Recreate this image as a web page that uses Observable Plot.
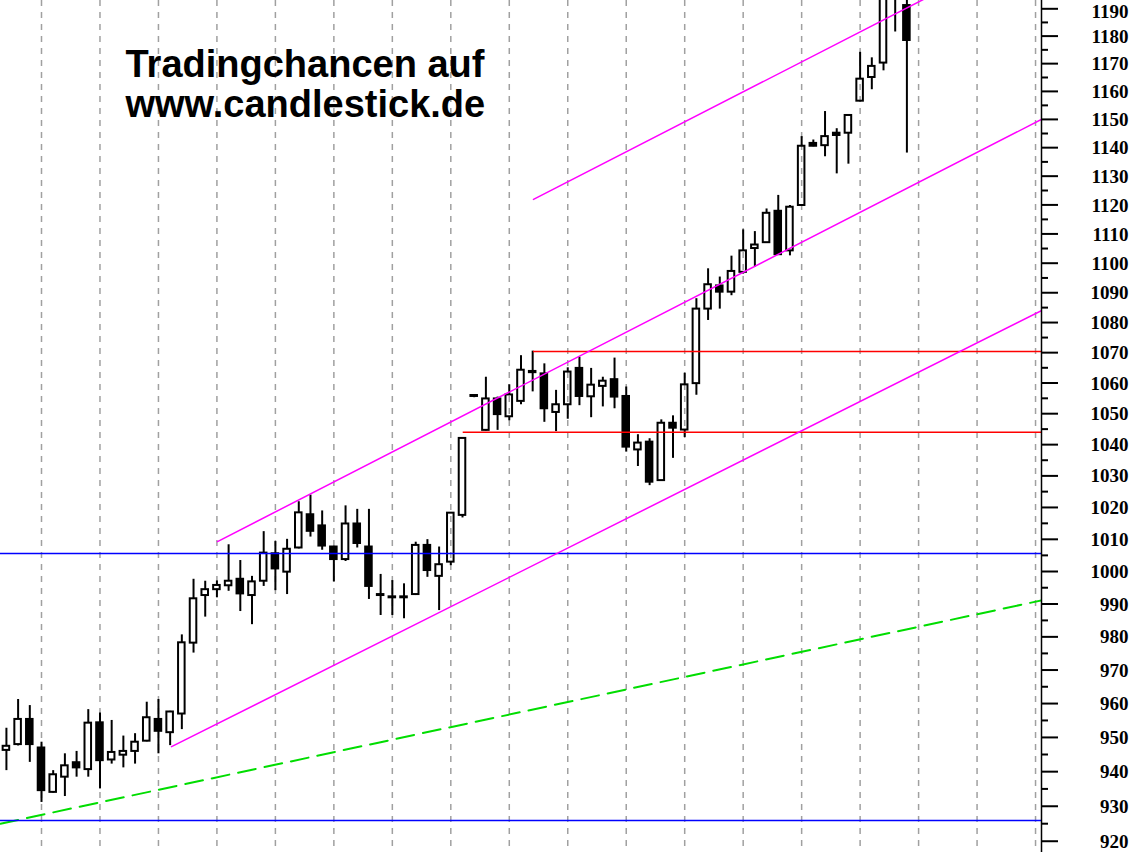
<!DOCTYPE html>
<html><head><meta charset="utf-8">
<script src="https://cdn.jsdelivr.net/npm/d3@7"></script>
<script src="https://cdn.jsdelivr.net/npm/@observablehq/plot@0.6"></script>
<style>body{margin:0;background:#fff}#chart{position:relative;width:1136px;height:852px}</style>
</head><body><div id="chart"></div>
<script>
// Candle data (index 0..77)
const opens  = [946.2,947.9,955.3,946.9,934.0,938.4,942.6,940.6,954.3,943.4,944.8,945.9,948.9,955.3,951.4,956.9,978.1,992.6,994.4,995.6,
                997.6,992.6,997.0,1005.5,999.8,1007.3,1017.7,1014.2,1007.6,1003.7,1014.8,1007.6,992.6,991.9,991.9,992.9,1008.1,998.5,1002.9,1017.5,
                1055.6,1044.6,1054.8,1049.0,1054.0,1063.8,1063.0,1050.4,1052.9,1064.8,1055.5,1058.9,1061.1,1055.6,1038.3,1040.8,1028.5,1046.9,1044.7,1059.8,
                1084.5,1092.3,1090.2,1096.9,1105.0,1107.0,1117.8,1104.2,1119.8,1141.5,1140.7,1145.1,1145.1,1156.5,1165.0,1170.2,1196.0,1191.2];
const highs  = [952.7,961.2,959.4,948.6,940.3,945.2,945.9,958.2,957.2,955.0,950.4,951.1,960.4,961.2,957.7,980.6,997.6,997.0,997.1,1008.3,
                1003.4,998.5,1012.4,1009.3,1010.0,1021.8,1023.9,1018.9,1007.8,1020.5,1019.4,1019.4,999.1,997.2,996.2,1009.1,1009.9,1007.6,1018.2,1042.3,
                1056.0,1061.9,1055.4,1059.4,1069.0,1070.5,1066.3,1057.6,1065.0,1068.5,1064.8,1061.9,1068.2,1058.7,1043.2,1041.9,1048.0,1049.3,1063.2,1088.0,
                1098.1,1095.3,1102.4,1111.4,1110.8,1118.6,1123.3,1119.8,1143.9,1142.7,1152.8,1146.7,1151.6,1174.1,1172.1,1196.0,1200.0,1193.5];
const lows   = [940.3,947.5,942.7,931.1,933.8,932.8,938.4,938.4,935.0,942.2,941.1,942.2,948.7,945.2,947.6,952.3,975.1,986.0,991.9,993.9,
                987.7,983.7,995.4,994.1,992.9,1007.0,1010.7,1006.6,996.8,1003.1,1007.3,991.4,986.5,986.5,985.5,992.6,998.2,988.0,1001.8,1016.7,
                1055.2,1044.4,1044.6,1047.7,1052.9,1057.1,1047.2,1044.2,1048.2,1052.6,1048.7,1052.2,1051.6,1037.6,1033.0,1026.9,1028.3,1035.6,1042.3,1056.0,
                1080.7,1084.5,1089.0,1096.3,1098.7,1106.8,1102.7,1102.5,1119.5,1140.3,1136.8,1130.8,1134.2,1156.3,1160.6,1167.4,1181.5,1138.1];
const closes = [947.4,955.3,947.9,934.5,939.1,941.7,941.1,954.2,943.2,945.6,945.9,948.6,955.8,951.8,957.5,978.2,991.6,994.4,995.7,997.0,
                993.1,996.8,1005.7,1000.8,1006.9,1018.3,1012.5,1007.9,1003.7,1014.8,1008.7,995.4,992.6,991.9,991.9,1008.1,1000.3,1002.1,1018.2,1042.0,
                1055.6,1054.8,1049.7,1056.1,1064.2,1063.4,1051.6,1052.9,1063.6,1055.6,1059.3,1060.6,1055.4,1039.2,1040.5,1028.0,1046.9,1045.3,1059.4,1084.5,
                1092.7,1090.2,1097.2,1104.2,1106.2,1117.1,1102.9,1119.2,1140.5,1140.5,1143.9,1144.3,1151.4,1164.4,1169.0,1194.0,1199.0,1178.4];

// Axis ticks
const majorTicks = [920,930,940,950,960,970,980,990,1000,1010,1020,1030,1040,1050,1060,1070,1080,1090,1100,1110,1120,1130,1140,1150,1160,1170,1180,1190];
const minorTicks = [925,935,945,955,965,975,985,995,1005,1015,1025,1035,1045,1055,1065,1075,1085,1095,1105,1115,1125,1135,1145,1155,1165,1175,1185];
// Vertical dashed grid (every 5th bar)
const gridAt = [3,8,13,18,23,28,33,38,43,48,53,58,63,68,73,78,83,88];

// Annotation lines (bar index, price)
const blueLevels = [1005.6, 925.9];
const redLevels  = [1070.4, 1044.0];
const redStarts  = [45.07, 39.06];
const channelTop = [[45.07, 1121.9], [88.51, 1216.0]];
const channelMid = [[18.05, 1009.3], [88.51, 1150.0]];
const channelLow = [[14.12, 947.3], [88.51, 1084.0]];
const greenTrend = [[-0.506, 925.0], [88.51, 991.1]];
const titleLines = ["Tradingchancen auf", "www.candlestick.de"];

const xDomain = [-0.506, 88.51];
const yDomain = [916.8, 1193.06];

const candles = opens.map((o, i) => ({i, o, h: highs[i], l: lows[i], c: closes[i]}));
const toPts = (a) => a.map(([x, y]) => ({x, y}));
const reds = redLevels.map((y, k) => ({y, x1: redStarts[k]}));
const labelStyle = {text: d => String(d), frameAnchor: "right", dx: 87, textAnchor: "end",
  fontSize: 19, fontWeight: "bold", fontFamily: "Liberation Serif", fill: "#000"};

const chart = Plot.plot({
  width: 1136, height: 852,
  marginLeft: 0, marginRight: 95, marginTop: 0, marginBottom: 0,
  style: {fontFamily: "Liberation Sans", background: "#fff", color: "#000"},
  x: {domain: xDomain, axis: null},
  y: {type: "log", domain: yDomain},
  marks: [
    Plot.ruleX(gridAt, {x: d => d, stroke: "#a0a0a0", strokeWidth: 1.5, strokeDasharray: "6,6"}),
    Plot.ruleX(candles, {x: "i", y1: d => Math.max(d.o, d.c), y2: "h", stroke: "#000", strokeWidth: 2, clip: true}),
    Plot.ruleX(candles, {x: "i", y1: "l", y2: d => Math.min(d.o, d.c), stroke: "#000", strokeWidth: 2, clip: true}),
    Plot.rect(candles, {x1: d => d.i - 0.28, x2: d => d.i + 0.28, y1: "o",
      y2: d => d.c === d.o ? d.c * 1.0003 : d.c,
      fill: d => d.c < d.o ? "#000" : "none", stroke: "#000", strokeWidth: 2, clip: true}),
    Plot.line(toPts(greenTrend), {x: "x", y: "y", stroke: "#00dd00", strokeWidth: 2, strokeDasharray: "18,9", clip: true}),
    Plot.ruleY(blueLevels, {y: d => d, stroke: "#0000ff", strokeWidth: 1.5}),
    Plot.ruleY(reds, {y: "y", x1: "x1", x2: () => xDomain[1], stroke: "#ff0000", strokeWidth: 1.5}),
    Plot.line(toPts(channelTop), {x: "x", y: "y", stroke: "#ff00ff", strokeWidth: 1.5, clip: true}),
    Plot.line(toPts(channelMid), {x: "x", y: "y", stroke: "#ff00ff", strokeWidth: 1.5, clip: true}),
    Plot.line(toPts(channelLow), {x: "x", y: "y", stroke: "#ff00ff", strokeWidth: 1.5, clip: true}),
    Plot.ruleX([xDomain[1]], {x: d => d, stroke: "#000", strokeWidth: 1.5}),
    Plot.axisY({anchor: "right", ticks: minorTicks, tickSize: 6, strokeWidth: 2, tickFormat: () => "", label: null}),
    Plot.axisY({anchor: "right", ticks: majorTicks, tickSize: 16, strokeWidth: 2, tickFormat: () => "", label: null}),
    Plot.text(majorTicks.slice(0, -1), {...labelStyle, y: d => d, dy: 0.5}),
    Plot.text(majorTicks.slice(-1), {...labelStyle, y: d => d, dy: 3}),
    Plot.text([titleLines.join("\n")], {text: d => d, frameAnchor: "top-left", dx: 125, dy: 48,
      lineAnchor: "top", lineHeight: 1.05, fontSize: 38, fontWeight: "bold", fontFamily: "Liberation Sans",
      textAnchor: "start", fill: "#000"})
  ]
});
document.getElementById("chart").appendChild(chart);
</script>
</body></html>
